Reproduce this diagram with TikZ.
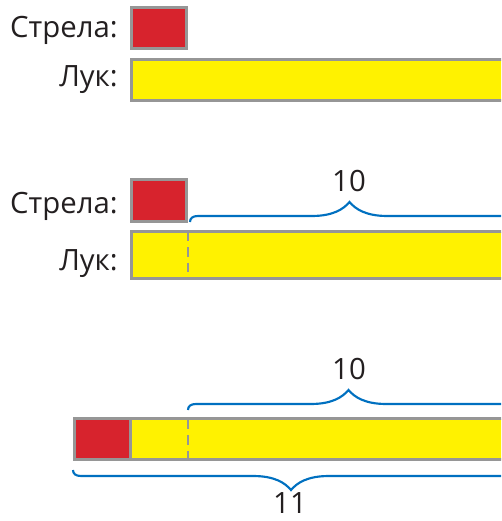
\documentclass[tikz,border=0pt]{standalone}
\usepackage{fontspec}
\setmainfont{Open Sans}
\usetikzlibrary{calc}

\definecolor{arrowred}{RGB}{215,35,45}
\definecolor{bowyellow}{RGB}{255,242,0}
\definecolor{framegray}{RGB}{150,150,150}
\definecolor{braceblue}{RGB}{0,112,192}
\definecolor{textdark}{RGB}{35,31,32}

\begin{document}
\begin{tikzpicture}[x=0.75pt, y=-0.75pt,
    cell/.style={draw=framegray, line width=2.25pt, inner sep=0pt},
    lbl/.style={text=textdark, font=\fontsize{22pt}{26pt}\selectfont, inner sep=0pt},
    cut/.style={draw=framegray, line width=1.8pt, dash pattern=on 7pt off 4.5pt},
    curly/.style={draw=braceblue, line width=1.6pt, to path={
        let \p1=(\tikztostart), \p2=(\tikztotarget),
            \p3=($(\tikztostart)!0.5!(\tikztotarget)$) in
        (\p1) .. controls +(0,{-4*#1}) and +(-5,0) .. ($(\p1)+(8,{-6*#1})$)
        -- ($(\p3)+(-38,{-6*#1})$)
        .. controls +(22,0) and +(-6,{7*#1}) .. ($(\p3)+(0,{-20*#1})$)
        .. controls +(6,{7*#1}) and +(-22,0) .. ($(\p3)+(38,{-6*#1})$)
        -- ($(\p2)+(-8,{-6*#1})$)
        .. controls +(5,0) and +(0,{-4*#1}) .. (\p2)}}]
    %--------------------%
    % Parameters
    %--------------------%
    \def\px{0.75pt}
    \def\barend{509}
    \def\cutx{188}

    \clip (0,0) rectangle (501,521);

    %--------------------%
    % Row 1
    %--------------------%
    \node[cell, fill=arrowred, minimum width=55*\px, minimum height=41*\px] (arrowA) at (159,28) {};
    \node[cell, fill=bowyellow, minimum width=377.5*\px, minimum height=41*\px] (bowA) at (320.25,80) {};
    \node[lbl, anchor=base east] (arrowAlbl) at (118,37) {Стрела:};
    \node[lbl, anchor=base east] (bowAlbl) at (118,86) {Лук:};

    %--------------------%
    % Row 2
    %--------------------%
    \node[cell, fill=arrowred, minimum width=55*\px, minimum height=42*\px] (arrowB) at (159,200.5) {};
    \node[cell, fill=bowyellow, minimum width=377.5*\px, minimum height=47*\px] (bowB) at (320.25,255) {};
    \node[lbl, anchor=base east] (arrowBlbl) at (118,213) {Стрела:};
    \node[lbl, anchor=base east] (bowBlbl) at (118,270) {Лук:};

    \coordinate (cutBtop) at (\cutx,232);
    \coordinate (cutBbot) at (\cutx,278);
    \draw[cut] (cutBtop) -- (cutBbot);

    \coordinate (tenBl) at (190,222);
    \coordinate (tenBr) at (\barend,222);
    \draw[curly=1] (tenBl) to (tenBr);
    \node[lbl] (tenBlbl) at (349,181) {10};

    %--------------------%
    % Row 3
    %--------------------%
    \node[cell, fill=arrowred, minimum width=56*\px, minimum height=41*\px] (arrowC) at (102.5,439) {};
    \node[cell, fill=bowyellow, minimum width=378.5*\px, minimum height=41*\px] (bowC) at (319.75,439) {};

    \coordinate (cutCtop) at (\cutx,420);
    \coordinate (cutCbot) at (\cutx,458);
    \draw[cut] (cutCtop) -- (cutCbot);

    \coordinate (tenCl) at (\cutx,410);
    \coordinate (tenCr) at (\barend,410);
    \draw[curly=1] (tenCl) to (tenCr);
    \node[lbl] (tenClbl) at (349,369) {10};

    \coordinate (elevenl) at (73,470);
    \coordinate (elevenr) at (\barend,470);
    \draw[curly=-1] (elevenl) to (elevenr);
    \node[lbl] (elevenlbl) at (290,503) {11};
\end{tikzpicture}
\end{document}
